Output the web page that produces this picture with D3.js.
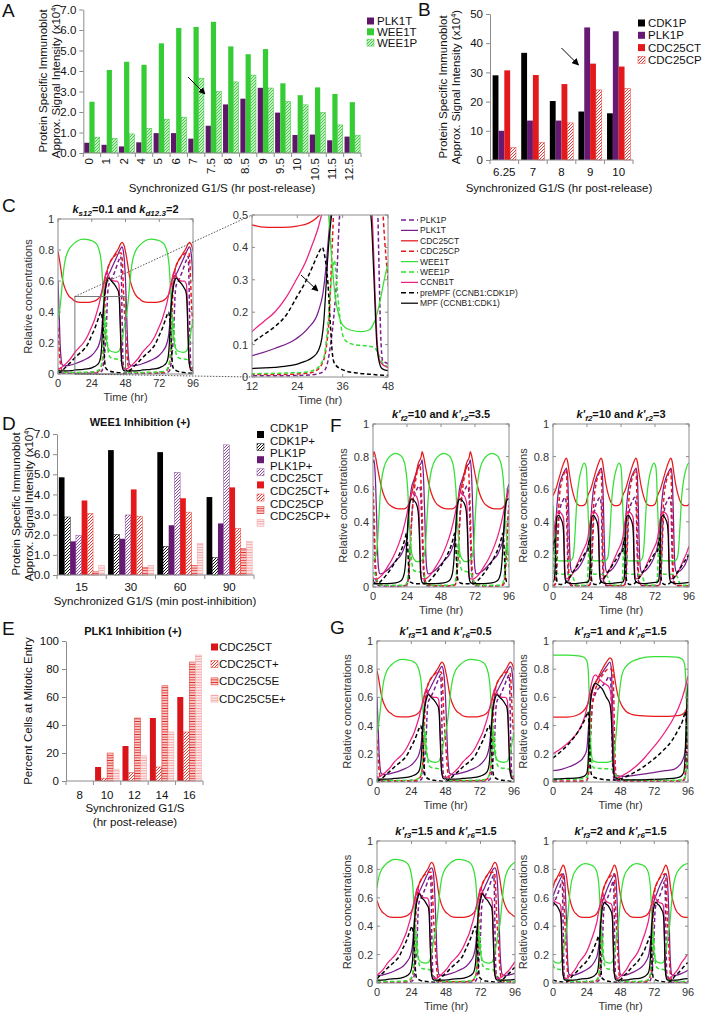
<!DOCTYPE html>
<html><head><meta charset="utf-8">
<script src="https://cdn.jsdelivr.net/npm/d3@7"></script>
<style>body{margin:0;background:#fff}svg{display:block;font-family:"Liberation Sans",Arial,sans-serif}</style>
</head><body>
<script>
// ===================== DATA =====================
// Panel A
const A_cats = ['0','1','2','4','5','6','7','7.5','8','8.5','9','9.5','10','10.5','11.5','12.5'];
const A_PLK1T = [0.5,0.4,0.32,0.52,0.97,0.97,0.7,1.33,2.37,2.65,3.18,1.97,0.88,0.9,0.62,0.8];
const A_WEE1T = [2.5,4.05,4.45,4.3,5.35,6.1,6.15,6.4,5.2,4.82,5.07,3.4,2.82,3.2,2.88,2.48];
const A_WEE1P = [0.77,0.72,0.93,1.2,1.65,1.75,3.65,3.0,3.47,3.8,3.17,2.52,2.35,1.98,1.37,0.87];
const A_yticks = [0,1,2,3,4,5,6,7];
// Panel B
const B_cats = ['6.25','7','8','9','10'];
const B_CDK1P = [29,36.7,20.2,16.6,16];
const B_PLK1P = [10,13.5,13.5,45.4,44.1];
const B_CDC25CT = [30.7,29.1,26,33,32];
const B_CDC25CP = [4.2,6,12.7,24,24.5];
const B_yticks = [0,10,20,30,40,50];
// Panel D
const D_cats = ['15','30','60','90'];
const D_CDK1P = [4.85,6.2,6.1,3.87];
const D_CDK1Pp = [2.88,2.02,1.42,0.86];
const D_PLK1P = [1.67,1.8,2.47,2.56];
const D_PLK1Pp = [1.97,2.98,5.09,6.46];
const D_CDC25CT = [3.7,4.25,3.81,4.35];
const D_CDC25CTp = [3.05,2.92,3.12,2.3];
const D_CDC25CP = [0.16,0.37,0.47,1.31];
const D_CDC25CPp = [0.46,0.47,1.56,1.66];
const D_labels = ['CDK1P','CDK1P+','PLK1P','PLK1P+','CDC25CT','CDC25CT+','CDC25CP','CDC25CP+'];
const D_yticks = [0,1,2,3,4,5,6,7];
// Panel E
const E_cats = ['8','10','12','14','16'];
const E_CDC25CT = [0,10,25,45,60];
const E_CDC25CTp = [0,2,6,10,35];
const E_CDC25C5E = [0,20,45,68,85];
const E_CDC25C5Ep = [0,8,18,35,90];
const E_labels = ['CDC25CT','CDC25CT+','CDC25C5E','CDC25C5E+'];
const E_yticks = [0,20,40,60,80,100];

// Simulations: [time (hr), relative concentration]
// C (ks12=0.1, kd12.3=2) -- same run as G (k'f3=1, k'r6=0.5)
const C_PLK1P=[[0,.04],[1,.015],[2,.006],[10,.004],[20,.004],[27,.006],[29.5,.01],[31.2,.02],[32.1,.05],[32.8,.1],[33.6,.18],[34.3,.28],[35.2,.5],[36,.57],[37.5,.6],[39.5,.64],[41.5,.69],[43.5,.74],[44.6,.76],[45.1,.62],[45.6,.35],[46.1,.12],[46.6,.05],[48,.04],[49,.015],[50,.006],[58,.004],[68,.004],[75,.006],[77.5,.01],[79.2,.02],[80.1,.05],[80.8,.1],[81.6,.18],[82.3,.28],[83.2,.5],[84,.57],[85.5,.6],[87.5,.64],[89.5,.69],[91.5,.74],[92.6,.76],[93.1,.62],[93.6,.35],[94.1,.12],[94.6,.05],[96,.04]];
const C_PLK1T=[[0,.6],[0.7,.42],[1.4,.22],[2.2,.1],[3,.06],[5,.052],[8,.056],[12,.066],[18,.088],[23.7,.118],[26.8,.15],[29.5,.2],[30.8,.26],[31.6,.34],[32.1,.41],[32.8,.5],[33.5,.56],[35,.62],[37,.66],[39,.7],[42,.76],[44,.8],[45.5,.82],[46.5,.79],[47.3,.72],[48,.6],[48.7,.42],[49.4,.22],[50.2,.1],[51,.06],[53,.052],[56,.056],[60,.066],[66,.088],[71.7,.118],[74.8,.15],[77.5,.2],[78.8,.26],[79.6,.34],[80.1,.41],[80.8,.5],[81.5,.56],[83,.62],[85,.66],[87,.7],[90,.76],[92,.8],[93.5,.82],[94.5,.79],[95.3,.72],[96,.6]];
const C_CDC25CT=[[0,.79],[1,.74],[2,.68],[3,.62],[4,.58],[6,.53],[8,.5],[10,.485],[12,.47],[16,.462],[20,.462],[24,.466],[27,.475],[29,.49],[30.5,.51],[32,.55],[33.5,.62],[35,.67],[37,.72],[39,.75],[41,.78],[43,.81],[44.5,.84],[45.5,.85],[46.5,.84],[47.3,.82],[48,.79],[49,.74],[50,.68],[51,.62],[52,.58],[54,.53],[56,.5],[58,.485],[60,.47],[64,.462],[68,.462],[72,.466],[75,.475],[77,.49],[78.5,.51],[80,.55],[81.5,.62],[83,.67],[85,.72],[87,.75],[89,.78],[91,.81],[92.5,.84],[93.5,.85],[94.5,.84],[95.3,.82],[96,.79]];
const C_CDC25CP=[[0,.3],[0.7,.18],[1.5,.08],[2.5,.03],[4,.012],[10,.008],[20,.008],[27,.012],[29,.02],[30.5,.04],[31.5,.08],[32.5,.2],[33.2,.4],[33.8,.55],[35,.66],[37,.72],[40,.76],[43,.78],[45,.78],[45.8,.72],[46.3,.6],[46.8,.48],[47.4,.38],[48,.3],[48.7,.18],[49.5,.08],[50.5,.03],[52,.012],[58,.008],[68,.008],[75,.012],[77,.02],[78.5,.04],[79.5,.08],[80.5,.2],[81.2,.4],[81.8,.55],[83,.66],[85,.72],[88,.76],[91,.78],[93,.78],[93.8,.72],[94.3,.6],[94.8,.48],[95.4,.38],[96,.3]];
const C_WEE1T=[[0,.35],[1,.4],[2,.48],[3,.58],[4,.67],[5,.73],[7,.79],[10,.83],[14,.86],[18,.87],[22,.865],[26,.85],[28,.83],[30,.77],[31,.7],[32,.55],[33,.38],[34,.25],[35,.19],[36,.16],[38,.145],[41,.14],[43,.145],[44,.16],[45,.19],[46,.24],[47,.3],[48,.35],[49,.4],[50,.48],[51,.58],[52,.67],[53,.73],[55,.79],[58,.83],[62,.86],[66,.87],[70,.865],[74,.85],[76,.83],[78,.77],[79,.7],[80,.55],[81,.38],[82,.25],[83,.19],[84,.16],[86,.145],[89,.14],[91,.145],[92,.16],[93,.19],[94,.24],[95,.3],[96,.35]];
const C_WEE1P=[[0,.03],[1,.02],[3,.012],[10,.01],[20,.012],[26,.015],[29,.025],[31,.06],[32,.15],[33,.3],[33.8,.36],[34.5,.28],[35.2,.19],[36,.13],[37,.11],[39,.1],[43,.095],[44.5,.09],[45.5,.07],[46.5,.045],[48,.03],[49,.02],[51,.012],[58,.01],[68,.012],[74,.015],[77,.025],[79,.06],[80,.15],[81,.3],[81.8,.36],[82.5,.28],[83.2,.19],[84,.13],[85,.11],[87,.1],[91,.095],[92.5,.09],[93.5,.07],[94.5,.045],[96,.03]];
const C_CCNB1T=[[0,.03],[3,.045],[6,.07],[9,.1],[12,.14],[15,.17],[18,.2],[21,.245],[23.7,.3],[26,.35],[28,.41],[29.5,.46],[30.4,.5],[32,.57],[33.5,.63],[34.5,.66],[35.5,.645],[37,.615],[40,.6],[42,.6],[43.3,.58],[44,.45],[44.6,.25],[45.2,.1],[45.8,.05],[47,.035],[48,.03],[51,.045],[54,.07],[57,.1],[60,.14],[63,.17],[66,.2],[69,.245],[71.7,.3],[74,.35],[76,.41],[77.5,.46],[78.4,.5],[80,.57],[81.5,.63],[82.5,.66],[83.5,.645],[85,.615],[88,.6],[90,.6],[91.3,.58],[92,.45],[92.6,.25],[93.2,.1],[93.8,.05],[95,.035],[96,.03]];
const C_preMPF=[[0,.005],[2,.012],[4,.03],[6,.05],[9,.075],[12,.105],[15,.13],[18,.155],[21,.19],[24,.25],[26,.29],[28,.34],[29.5,.38],[30.6,.4],[31.3,.37],[32.1,.29],[32.8,.15],[33.3,.07],[33.9,.04],[36.5,.02],[40,.012],[43.6,.008],[48,.005],[50,.012],[52,.03],[54,.05],[57,.075],[60,.105],[63,.13],[66,.155],[69,.19],[72,.25],[74,.29],[76,.34],[77.5,.38],[78.6,.4],[79.3,.37],[80.1,.29],[80.8,.15],[81.3,.07],[81.9,.04],[84.5,.02],[88,.012],[91.6,.008],[96,.005]];
const C_MPF=[[0,.02],[4,.02],[10,.022],[12,.026],[18,.03],[22,.035],[24,.04],[26,.048],[28,.06],[29.5,.08],[30.5,.12],[31,.17],[31.5,.26],[32,.36],[32.6,.45],[33.2,.51],[34,.56],[35,.6],[36,.62],[38,.6],[40,.58],[42,.55],[43,.53],[43.6,.48],[44.3,.3],[45,.11],[45.6,.05],[46.5,.025],[48,.02],[52,.02],[58,.022],[60,.026],[66,.03],[70,.035],[72,.04],[74,.048],[76,.06],[77.5,.08],[78.5,.12],[79,.17],[79.5,.26],[80,.36],[80.6,.45],[81.2,.51],[82,.56],[83,.6],[84,.62],[86,.6],[88,.58],[90,.55],[91,.53],[91.6,.48],[92.3,.3],[93,.11],[93.6,.05],[94.5,.025],[96,.02]];

// F left (k'f2=10, k'r2=3.5)
const FL_PLK1P=[[0,.5],[0.8,.3],[1.5,.12],[2.5,.03],[4,.008],[15,.005],[22,.007],[24,.015],[25,.06],[26,.2],[27,.38],[28,.5],[29.5,.57],[31,.6],[32.5,.62],[33.5,.6],[34,.5],[34.8,.3],[35.5,.12],[36.5,.03],[38,.008],[49,.005],[56,.007],[58,.015],[59,.06],[60,.2],[61,.38],[62,.5],[63.5,.57],[65,.6],[66.5,.62],[67.5,.6],[68,.5],[68.8,.3],[69.5,.12],[70.5,.03],[72,.008],[83,.005],[90,.007],[92,.015],[93,.06],[94,.2],[95,.38],[96,.5]];
const FL_PLK1T=[[0,.76],[0.7,.78],[1.5,.7],[2.5,.45],[3.3,.2],[4,.11],[5,.08],[8,.09],[12,.12],[16,.16],[20,.2],[22,.24],[24,.3],[25,.4],[26,.52],[27,.6],[29,.66],[31,.71],[33,.75],[34,.76],[34.7,.78],[35.5,.7],[36.5,.45],[37.3,.2],[38,.11],[39,.08],[42,.09],[46,.12],[50,.16],[54,.2],[56,.24],[58,.3],[59,.4],[60,.52],[61,.6],[63,.66],[65,.71],[67,.75],[68,.76],[68.7,.78],[69.5,.7],[70.5,.45],[71.3,.2],[72,.11],[73,.08],[76,.09],[80,.12],[84,.16],[88,.2],[90,.24],[92,.3],[93,.4],[94,.52],[95,.6],[96,.63]];
const FL_CDC25CT=[[0,.8],[0.7,.83],[1.5,.81],[3,.74],[5,.65],[7,.58],[10,.52],[14,.49],[18,.48],[22,.48],[24,.49],[26,.53],[28,.6],[30,.68],[32,.76],[34,.8],[34.7,.83],[35.5,.81],[37,.74],[39,.65],[41,.58],[44,.52],[48,.49],[52,.48],[56,.48],[58,.49],[60,.53],[62,.6],[64,.68],[66,.76],[68,.8],[68.7,.83],[69.5,.81],[71,.74],[73,.65],[75,.58],[78,.52],[82,.49],[86,.48],[90,.48],[92,.49],[94,.53],[96,.6]];
const FL_CDC25CP=[[0,.62],[0.7,.45],[1.5,.2],[2.5,.06],[4,.015],[15,.006],[22,.008],[24,.015],[25,.05],[26,.18],[27,.36],[28,.5],[29.5,.62],[31,.7],[32.5,.75],[33.3,.74],[34,.62],[34.7,.45],[35.5,.2],[36.5,.06],[38,.015],[49,.006],[56,.008],[58,.015],[59,.05],[60,.18],[61,.36],[62,.5],[63.5,.62],[65,.7],[66.5,.75],[67.3,.74],[68,.62],[68.7,.45],[69.5,.2],[70.5,.06],[72,.015],[83,.006],[90,.008],[92,.015],[93,.05],[94,.18],[95,.36],[96,.5]];
const FL_WEE1T=[[0,.16],[2,.19],[3,.25],[4,.4],[5,.55],[6,.65],[8,.74],[10,.78],[13,.81],[16,.82],[19,.81],[21,.79],[23,.73],[24.5,.6],[25.5,.42],[26.5,.28],[27.5,.2],[29,.17],[31,.155],[34,.16],[36,.19],[37,.25],[38,.4],[39,.55],[40,.65],[42,.74],[44,.78],[47,.81],[50,.82],[53,.81],[55,.79],[57,.73],[58.5,.6],[59.5,.42],[60.5,.28],[61.5,.2],[63,.17],[65,.155],[68,.16],[70,.19],[71,.25],[72,.4],[73,.55],[74,.65],[76,.74],[78,.78],[81,.81],[84,.82],[87,.81],[89,.79],[91,.73],[92.5,.6],[93.5,.42],[94.5,.28],[95.5,.2],[96,.19]];
const FL_WEE1P=[[0,.09],[2,.07],[3,.04],[4,.02],[6,.012],[20,.01],[23,.015],[24.5,.05],[25.5,.18],[26.3,.26],[27,.18],[28,.12],[29,.1],[34,.09],[36,.07],[37,.04],[38,.02],[40,.012],[54,.01],[57,.015],[58.5,.05],[59.5,.18],[60.3,.26],[61,.18],[62,.12],[63,.1],[68,.09],[70,.07],[71,.04],[72,.02],[74,.012],[88,.01],[91,.015],[92.5,.05],[93.5,.18],[94.3,.26],[95,.18],[96,.12]];
const FL_CCNB1T=[[0,.06],[1,.05],[3,.05],[6,.07],[10,.12],[14,.18],[18,.26],[21,.34],[24,.45],[26,.54],[27.5,.58],[29,.57],[31,.55],[32.3,.5],[33,.3],[33.6,.12],[34,.06],[35,.05],[37,.05],[40,.07],[44,.12],[48,.18],[52,.26],[55,.34],[58,.45],[60,.54],[61.5,.58],[63,.57],[65,.55],[66.3,.5],[67,.3],[67.6,.12],[68,.06],[69,.05],[71,.05],[74,.07],[78,.12],[82,.18],[86,.26],[89,.34],[92,.45],[94,.54],[95.5,.58],[96,.58]];
const FL_preMPF=[[0,.02],[3,.02],[6,.04],[10,.08],[14,.13],[18,.19],[21,.25],[23,.31],[23.6,.33],[24.3,.28],[25,.15],[25.6,.06],[26.5,.03],[30,.02],[34,.02],[37,.02],[40,.04],[44,.08],[48,.13],[52,.19],[55,.25],[57,.31],[57.6,.33],[58.3,.28],[59,.15],[59.6,.06],[60.5,.03],[64,.02],[68,.02],[71,.02],[74,.04],[78,.08],[82,.13],[86,.19],[89,.25],[91,.31],[91.6,.33],[92.3,.28],[93,.15],[93.6,.06],[94.5,.03],[96,.025]];
const FL_MPF=[[0,.05],[1,.025],[4,.02],[10,.02],[16,.025],[20,.04],[22,.08],[23,.15],[24,.3],[25,.45],[26,.52],[27.5,.54],[29,.53],[31,.5],[32,.45],[32.8,.3],[33.4,.12],[34,.05],[35,.025],[38,.02],[44,.02],[50,.025],[54,.04],[56,.08],[57,.15],[58,.3],[59,.45],[60,.52],[61.5,.54],[63,.53],[65,.5],[66,.45],[66.8,.3],[67.4,.12],[68,.05],[69,.025],[72,.02],[78,.02],[84,.025],[88,.04],[90,.08],[91,.15],[92,.3],[93,.45],[94,.52],[95.5,.54],[96,.54]];

// F right (k'f2=10, k'r2=3)
const FR_PLK1P=[[0,.008],[1.5,.015],[2.5,.08],[3.3,.25],[4,.4],[5,.48],[7,.53],[8.5,.55],[9.5,.5],[10,.3],[10.6,.1],[11.3,.03],[13,.008],[24.6,.008],[26.1,.015],[27.1,.08],[27.9,.25],[28.6,.4],[29.6,.48],[31.6,.53],[33.1,.55],[34.1,.5],[34.6,.3],[35.2,.1],[35.9,.03],[37.6,.008],[49.2,.008],[50.7,.015],[51.7,.08],[52.5,.25],[53.2,.4],[54.2,.48],[56.2,.53],[57.7,.55],[58.7,.5],[59.2,.3],[59.8,.1],[60.5,.03],[62.2,.008],[73.8,.008],[75.3,.015],[76.3,.08],[77.1,.25],[77.8,.4],[78.8,.48],[80.8,.53],[82.3,.55],[83.3,.5],[83.8,.3],[84.4,.1],[85.1,.03],[86.8,.008],[96,.008]];
const FR_PLK1T=[[0,.25],[1,.3],[2,.4],[3,.52],[4,.6],[6,.67],[8,.71],[9.5,.73],[10.3,.68],[11,.5],[11.7,.25],[12.4,.12],[13.5,.09],[16,.1],[19,.13],[22,.18],[24.6,.25],[25.6,.3],[26.6,.4],[27.6,.52],[28.6,.6],[30.6,.67],[32.6,.71],[34.1,.73],[34.9,.68],[35.6,.5],[36.3,.25],[37,.12],[38.1,.09],[40.6,.1],[43.6,.13],[46.6,.18],[49.2,.25],[50.2,.3],[51.2,.4],[52.2,.52],[53.2,.6],[55.2,.67],[57.2,.71],[58.7,.73],[59.5,.68],[60.2,.5],[60.9,.25],[61.6,.12],[62.7,.09],[65.2,.1],[68.2,.13],[71.2,.18],[73.8,.25],[74.8,.3],[75.8,.4],[76.8,.52],[77.8,.6],[79.8,.67],[81.8,.71],[83.3,.73],[84.1,.68],[84.8,.5],[85.5,.25],[86.2,.12],[87.3,.09],[89.8,.1],[92.8,.13],[96,.2]];
const FR_CDC25CT=[[0,.56],[2,.6],[4,.66],[6,.72],[8,.77],[9.3,.79],[10.3,.77],[11.5,.7],[13,.62],[15,.55],[17,.51],[19,.5],[21,.5],[23,.51],[24.6,.56],[26.6,.6],[28.6,.66],[30.6,.72],[32.6,.77],[33.9,.79],[34.9,.77],[36.1,.7],[37.6,.62],[39.6,.55],[41.6,.51],[43.6,.5],[45.6,.5],[47.6,.51],[49.2,.56],[51.2,.6],[53.2,.66],[55.2,.72],[57.2,.77],[58.5,.79],[59.5,.77],[60.7,.7],[62.2,.62],[64.2,.55],[66.2,.51],[68.2,.5],[70.2,.5],[72.2,.51],[73.8,.56],[75.8,.6],[77.8,.66],[79.8,.72],[81.8,.77],[83.1,.79],[84.1,.77],[85.3,.7],[86.8,.62],[88.8,.55],[90.8,.51],[92.8,.5],[94.8,.5],[96,.51]];
const FR_CDC25CP=[[0,.008],[1.5,.015],[2.3,.08],[3,.25],[3.7,.42],[4.5,.55],[6,.64],[8,.7],[9.3,.72],[9.9,.6],[10.4,.35],[11,.12],[11.8,.03],[13.5,.01],[24.6,.008],[26.1,.015],[26.9,.08],[27.6,.25],[28.3,.42],[29.1,.55],[30.6,.64],[32.6,.7],[33.9,.72],[34.5,.6],[35,.35],[35.6,.12],[36.4,.03],[38.1,.01],[49.2,.008],[50.7,.015],[51.5,.08],[52.2,.25],[52.9,.42],[53.7,.55],[55.2,.64],[57.2,.7],[58.5,.72],[59.1,.6],[59.6,.35],[60.2,.12],[61,.03],[62.7,.01],[73.8,.008],[75.3,.015],[76.1,.08],[76.8,.25],[77.5,.42],[78.3,.55],[79.8,.64],[81.8,.7],[83.1,.72],[83.7,.6],[84.2,.35],[84.8,.12],[85.6,.03],[87.3,.01],[96,.008]];
const FR_WEE1T=[[0,.5],[0.8,.32],[1.6,.22],[2.5,.18],[4,.16],[12,.16],[14,.18],[15,.25],[16,.4],[17,.55],[18.5,.66],[20,.72],[22,.76],[23.3,.74],[24,.66],[24.6,.5],[25.4,.32],[26.2,.22],[27.1,.18],[28.6,.16],[36.6,.16],[38.6,.18],[39.6,.25],[40.6,.4],[41.6,.55],[43.1,.66],[44.6,.72],[46.6,.76],[47.9,.74],[48.6,.66],[49.2,.5],[50,.32],[50.8,.22],[51.7,.18],[53.2,.16],[61.2,.16],[63.2,.18],[64.2,.25],[65.2,.4],[66.2,.55],[67.7,.66],[69.2,.72],[71.2,.76],[72.5,.74],[73.2,.66],[73.8,.5],[74.6,.32],[75.4,.22],[76.3,.18],[77.8,.16],[85.8,.16],[87.8,.18],[88.8,.25],[89.8,.4],[90.8,.55],[92.3,.66],[93.8,.72],[95.8,.76],[96,.76]];
const FR_WEE1P=[[0,.08],[0.5,.2],[1,.25],[1.6,.15],[2.3,.09],[4,.08],[13,.075],[14.5,.05],[15.5,.025],[17,.012],[23,.01],[24.2,.03],[24.6,.08],[25.1,.2],[25.6,.25],[26.2,.15],[26.9,.09],[28.6,.08],[37.6,.075],[39.1,.05],[40.1,.025],[41.6,.012],[47.6,.01],[48.8,.03],[49.2,.08],[49.7,.2],[50.2,.25],[50.8,.15],[51.5,.09],[53.2,.08],[62.2,.075],[63.7,.05],[64.7,.025],[66.2,.012],[72.2,.01],[73.4,.03],[73.8,.08],[74.3,.2],[74.8,.25],[75.4,.15],[76.1,.09],[77.8,.08],[86.8,.075],[88.3,.05],[89.3,.025],[90.8,.012],[96,.01]];
const FR_CCNB1T=[[0,.3],[1,.36],[2,.42],[3,.46],[4.5,.46],[6,.45],[7.5,.42],[8.1,.2],[8.6,.08],[9.5,.05],[12,.06],[15,.1],[18,.16],[21,.22],[24.6,.3],[25.6,.36],[26.6,.42],[27.6,.46],[29.1,.46],[30.6,.45],[32.1,.42],[32.7,.2],[33.2,.08],[34.1,.05],[36.6,.06],[39.6,.1],[42.6,.16],[45.6,.22],[49.2,.3],[50.2,.36],[51.2,.42],[52.2,.46],[53.7,.46],[55.2,.45],[56.7,.42],[57.3,.2],[57.8,.08],[58.7,.05],[61.2,.06],[64.2,.1],[67.2,.16],[70.2,.22],[73.8,.3],[74.8,.36],[75.8,.42],[76.8,.46],[78.3,.46],[79.8,.45],[81.3,.42],[81.9,.2],[82.4,.08],[83.3,.05],[85.8,.06],[88.8,.1],[91.8,.16],[94.8,.22],[96,.25]];
const FR_preMPF=[[0,.22],[0.8,.28],[1.3,.3],[1.8,.22],[2.3,.08],[3,.03],[5,.015],[8,.02],[11,.05],[14,.09],[17,.13],[20,.17],[23,.21],[24.6,.22],[25.4,.28],[25.9,.3],[26.4,.22],[26.9,.08],[27.6,.03],[29.6,.015],[32.6,.02],[35.6,.05],[38.6,.09],[41.6,.13],[44.6,.17],[47.6,.21],[49.2,.22],[50,.28],[50.5,.3],[51,.22],[51.5,.08],[52.2,.03],[54.2,.015],[57.2,.02],[60.2,.05],[63.2,.09],[66.2,.13],[69.2,.17],[72.2,.21],[73.8,.22],[74.6,.28],[75.1,.3],[75.6,.22],[76.1,.08],[76.8,.03],[78.8,.015],[81.8,.02],[84.8,.05],[87.8,.09],[90.8,.13],[93.8,.17],[96,.2]];
const FR_MPF=[[0,.03],[1,.05],[1.6,.15],[2.2,.35],[2.8,.43],[4,.44],[5.5,.42],[7,.38],[7.6,.3],[8.1,.12],[8.6,.05],[9.5,.03],[14,.02],[20,.025],[24.6,.03],[25.6,.05],[26.2,.15],[26.8,.35],[27.4,.43],[28.6,.44],[30.1,.42],[31.6,.38],[32.2,.3],[32.7,.12],[33.2,.05],[34.1,.03],[38.6,.02],[44.6,.025],[49.2,.03],[50.2,.05],[50.8,.15],[51.4,.35],[52,.43],[53.2,.44],[54.7,.42],[56.2,.38],[56.8,.3],[57.3,.12],[57.8,.05],[58.7,.03],[63.2,.02],[69.2,.025],[73.8,.03],[74.8,.05],[75.4,.15],[76,.35],[76.6,.43],[77.8,.44],[79.3,.42],[80.8,.38],[81.4,.3],[81.9,.12],[82.4,.05],[83.3,.03],[87.8,.02],[93.8,.025],[96,.028]];

// G top right (k'f3=1, k'r6=1.5)
const GTR_PLK1P=[[0,.005],[20,.006],[24,.012],[25,.04],[26,.15],[27,.38],[28,.55],[30,.62],[32,.66],[35,.68],[38,.72],[40,.75],[41,.72],[41.7,.45],[42.3,.15],[43,.04],[44,.01],[60,.005],[90,.006],[93,.012],[94.2,.05],[95,.2],[95.6,.4],[96,.5]];
const GTR_PLK1T=[[0,.08],[6,.09],[12,.11],[18,.14],[22,.18],[24,.23],[25,.35],[26,.5],[27.5,.62],[30,.7],[34,.76],[38,.82],[40.5,.85],[41.5,.8],[42.3,.55],[43,.25],[43.7,.08],[44.5,.045],[50,.04],[60,.05],[70,.065],[80,.08],[86,.09],[90,.12],[92,.15],[94,.22],[95,.33],[96,.5]];
const GTR_CDC25CT=[[0,.46],[10,.46],[16,.47],[20,.49],[23,.52],[25,.56],[27,.63],[29,.68],[32,.74],[35,.8],[38,.85],[40.5,.88],[41.8,.87],[43,.8],[44.5,.7],[46,.62],[48,.56],[52,.5],[56,.48],[62,.47],[72,.465],[82,.465],[88,.47],[92,.48],[94,.5],[95,.52],[96,.55]];
const GTR_CDC25CP=[[0,.005],[20,.006],[24,.012],[25,.05],[26,.2],[27,.42],[28,.55],[30,.65],[33,.72],[36,.77],[39,.8],[41.5,.8],[42.5,.78],[43.2,.6],[43.8,.3],[44.5,.08],[45.5,.02],[50,.008],[90,.007],[93,.015],[94.2,.08],[95,.3],[95.6,.5],[96,.6]];
const GTR_WEE1T=[[0,.9],[10,.9],[18,.895],[22,.885],[24,.86],[25,.8],[25.8,.6],[26.5,.35],[27.3,.2],[28.5,.15],[32,.14],[38,.14],[42,.15],[43.5,.2],[45,.35],[46.5,.55],[48,.7],[50,.79],[54,.84],[60,.87],[66,.885],[72,.89],[80,.89],[88,.885],[92,.87],[93.5,.84],[94.5,.7],[95.2,.45],[96,.25]];
const GTR_WEE1P=[[0,.022],[15,.02],[22,.025],[24.5,.04],[25.5,.15],[26.2,.28],[27,.2],[28,.12],[29,.1],[35,.095],[41,.092],[43,.08],[44.5,.05],[46,.025],[50,.015],[80,.012],[92,.015],[94,.03],[95,.12],[96,.2]];
const GTR_CCNB1T=[[0,.2],[6,.24],[12,.29],[18,.36],[21,.42],[23,.48],[25,.57],[27,.68],[29,.75],[30.5,.76],[32,.74],[35,.71],[38,.69],[40,.67],[41.5,.6],[42.3,.35],[43,.12],[43.8,.04],[46,.03],[50,.05],[55,.08],[60,.12],[65,.17],[70,.23],[75,.29],[80,.36],[85,.44],[89,.52],[92,.6],[94,.67],[96,.75]];
const GTR_preMPF=[[0,.17],[6,.22],[12,.28],[18,.36],[22,.43],[24,.48],[24.8,.5],[25.5,.42],[26.2,.2],[27,.07],[28,.04],[32,.025],[40,.015],[45,.015],[50,.03],[60,.08],[70,.15],[78,.22],[85,.3],[89,.37],[92,.43],[93.5,.48],[94.2,.5],[94.9,.4],[95.5,.2],[96,.08]];
const GTR_MPF=[[0,.02],[10,.025],[18,.03],[22,.04],[24,.06],[25,.15],[25.7,.35],[26.5,.55],[28,.66],[30,.7],[32,.69],[35,.66],[38,.6],[40.5,.55],[41.5,.45],[42.3,.25],[43,.08],[44,.03],[50,.015],[60,.015],[70,.018],[80,.022],[88,.03],[91,.04],[93,.07],[94,.2],[94.8,.45],[95.5,.62],[96,.7]];

// G bottom left (k'f3=1.5, k'r6=1.5)
const GBL_PLK1P=[[0,.005],[5.5,.004],[14.7,.004],[21.1,.006],[23.4,.01],[25,.02],[25.8,.05],[26.4,.1],[27.1,.18],[27.8,.28],[28.6,.5],[29.3,.57],[30.7,.6],[32.5,.64],[34.4,.69],[36.2,.74],[37.2,.76],[37.7,.62],[38.1,.35],[38.6,.12],[39,.05],[40.3,.04],[41.3,.015],[42.2,.006],[49.5,.004],[58.7,.004],[65.1,.006],[67.4,.01],[69,.02],[69.8,.05],[70.4,.1],[71.1,.18],[71.8,.28],[72.6,.5],[73.3,.57],[74.7,.6],[76.5,.64],[78.4,.69],[80.2,.74],[81.2,.76],[81.7,.62],[82.1,.35],[82.6,.12],[83,.05],[84.3,.04],[85.3,.015],[86.2,.006],[93.5,.004],[96,.004]];
const GBL_PLK1T=[[0,.055],[0.9,.052],[3.7,.056],[7.3,.066],[12.8,.088],[18.1,.118],[20.9,.15],[23.4,.2],[24.6,.26],[25.3,.34],[25.8,.41],[26.4,.5],[27,.56],[28.4,.62],[30.3,.66],[32.1,.7],[34.8,.76],[36.7,.8],[38,.81],[39,.79],[39.7,.72],[40.3,.6],[41,.42],[41.6,.22],[42.4,.1],[43.1,.06],[44.9,.052],[47.7,.056],[51.3,.066],[56.8,.088],[62.1,.118],[64.9,.15],[67.4,.2],[68.6,.26],[69.3,.34],[69.8,.41],[70.4,.5],[71,.56],[72.4,.62],[74.3,.66],[76.1,.7],[78.8,.76],[80.7,.8],[82,.81],[83,.79],[83.7,.72],[84.3,.6],[85,.42],[85.6,.22],[86.4,.1],[87.1,.06],[88.9,.052],[91.7,.056],[95.3,.066],[96,.068]];
const GBL_CDC25CT=[[0,.58],[1.8,.53],[3.7,.5],[5.5,.485],[7.3,.47],[11,.462],[14.7,.462],[18.3,.466],[21.1,.475],[22.9,.49],[24.3,.51],[25.7,.55],[27,.62],[28.4,.67],[30.3,.72],[32.1,.75],[33.9,.78],[35.8,.81],[37.1,.84],[38,.85],[39,.84],[39.7,.82],[40.3,.79],[41.3,.74],[42.2,.68],[43.1,.62],[44,.58],[45.8,.53],[47.7,.5],[49.5,.485],[51.3,.47],[55,.462],[58.7,.462],[62.3,.466],[65.1,.475],[66.9,.49],[68.3,.51],[69.7,.55],[71,.62],[72.4,.67],[74.3,.72],[76.1,.75],[77.9,.78],[79.8,.81],[81.1,.84],[82,.85],[83,.84],[83.7,.82],[84.3,.79],[85.3,.74],[86.2,.68],[87.1,.62],[88,.58],[89.8,.53],[91.7,.5],[93.5,.485],[95.3,.47],[96,.468]];
const GBL_CDC25CP=[[0,.012],[5.5,.008],[14.7,.008],[21.1,.012],[22.9,.02],[24.3,.04],[25.2,.08],[26.1,.2],[26.8,.4],[27.3,.55],[28.4,.66],[30.3,.72],[33,.76],[35.8,.78],[37.6,.78],[38.3,.72],[38.8,.6],[39.2,.48],[39.8,.38],[40.3,.3],[41,.18],[41.7,.08],[42.6,.03],[44,.012],[49.5,.008],[58.7,.008],[65.1,.012],[66.9,.02],[68.3,.04],[69.2,.08],[70.1,.2],[70.8,.4],[71.3,.55],[72.4,.66],[74.3,.72],[77,.76],[79.8,.78],[81.6,.78],[82.3,.72],[82.8,.6],[83.2,.48],[83.8,.38],[84.3,.3],[85,.18],[85.7,.08],[86.6,.03],[88,.012],[93.5,.008],[96,.008]];
const GBL_WEE1T=[[0,.67],[0.9,.73],[2.8,.79],[5.5,.83],[9.2,.86],[12.8,.87],[16.5,.865],[20.2,.85],[22,.83],[23.8,.77],[24.8,.7],[25.7,.55],[26.6,.38],[27.5,.25],[28.4,.19],[29.3,.16],[31.2,.145],[33.9,.14],[35.8,.145],[36.7,.16],[37.6,.19],[38.5,.24],[39.4,.3],[40.3,.35],[41.3,.4],[42.2,.48],[43.1,.58],[44,.67],[44.9,.73],[46.8,.79],[49.5,.83],[53.2,.86],[56.8,.87],[60.5,.865],[64.2,.85],[66,.83],[67.8,.77],[68.8,.7],[69.7,.55],[70.6,.38],[71.5,.25],[72.4,.19],[73.3,.16],[75.2,.145],[77.9,.14],[79.8,.145],[80.7,.16],[81.6,.19],[82.5,.24],[83.4,.3],[84.3,.35],[85.3,.4],[86.2,.48],[87.1,.58],[88,.67],[88.9,.73],[90.8,.79],[93.5,.83],[96,.85]];
const GBL_WEE1P=[[0,.011],[5.5,.01],[14.7,.012],[20.2,.015],[22.9,.025],[24.8,.06],[25.7,.15],[26.6,.3],[27.3,.36],[28,.28],[28.6,.19],[29.3,.13],[30.3,.11],[32.1,.1],[35.8,.095],[37.1,.09],[38,.07],[38.9,.045],[40.3,.03],[41.3,.02],[43.1,.012],[49.5,.01],[58.7,.012],[64.2,.015],[66.9,.025],[68.8,.06],[69.7,.15],[70.6,.3],[71.3,.36],[72,.28],[72.6,.19],[73.3,.13],[74.3,.11],[76.1,.1],[79.8,.095],[81.1,.09],[82,.07],[82.9,.045],[84.3,.03],[85.3,.02],[87.1,.012],[93.5,.01],[96,.01]];
const GBL_CCNB1T=[[0,.055],[1.8,.07],[4.6,.1],[7.3,.14],[10.1,.17],[12.8,.2],[15.6,.245],[18.1,.3],[20.2,.35],[22,.41],[23.4,.46],[24.2,.5],[25.7,.57],[27,.63],[28,.67],[28.9,.655],[30.3,.62],[33,.6],[34.8,.6],[36,.58],[36.7,.45],[37.2,.25],[37.8,.1],[38.3,.05],[39.4,.035],[40.3,.03],[43.1,.045],[45.8,.07],[48.6,.1],[51.3,.14],[54.1,.17],[56.8,.2],[59.6,.245],[62.1,.3],[64.2,.35],[66,.41],[67.4,.46],[68.2,.5],[69.7,.57],[71,.63],[72,.67],[72.9,.655],[74.3,.62],[77,.6],[78.8,.6],[80,.58],[80.7,.45],[81.2,.25],[81.8,.1],[82.3,.05],[83.4,.035],[84.3,.03],[87.1,.045],[89.8,.07],[92.6,.1],[95.3,.14],[96,.15]];
const GBL_preMPF=[[0,.03],[1.8,.05],[4.6,.075],[7.3,.105],[10.1,.13],[12.8,.155],[15.6,.19],[18.3,.25],[20.2,.29],[22,.34],[23.4,.38],[24.4,.4],[25,.37],[25.8,.29],[26.4,.15],[26.9,.07],[27.4,.04],[29.8,.02],[33,.012],[36.3,.008],[40.3,.005],[42.2,.012],[44,.03],[45.8,.05],[48.6,.075],[51.3,.105],[54.1,.13],[56.8,.155],[59.6,.19],[62.3,.25],[64.2,.29],[66,.34],[67.4,.38],[68.4,.4],[69,.37],[69.8,.29],[70.4,.15],[70.9,.07],[71.4,.04],[73.8,.02],[77,.012],[80.3,.008],[84.3,.005],[86.2,.012],[88,.03],[89.8,.05],[92.6,.075],[95.3,.105],[96,.11]];
const GBL_MPF=[[0,.02],[5.5,.022],[7.3,.026],[12.8,.03],[16.5,.035],[18.3,.04],[20.2,.048],[22,.06],[23.4,.08],[24.3,.12],[24.8,.17],[25.2,.26],[25.7,.36],[26.2,.45],[26.8,.51],[27.5,.56],[28.4,.6],[29.3,.63],[31.2,.6],[33,.58],[34.8,.55],[35.8,.53],[36.3,.48],[36.9,.3],[37.6,.11],[38.1,.05],[39,.025],[40.3,.02],[44,.02],[49.5,.022],[51.3,.026],[56.8,.03],[60.5,.035],[62.3,.04],[64.2,.048],[66,.06],[67.4,.08],[68.3,.12],[68.8,.17],[69.2,.26],[69.7,.36],[70.2,.45],[70.8,.51],[71.5,.56],[72.4,.6],[73.3,.63],[75.2,.6],[77,.58],[78.8,.55],[79.8,.53],[80.3,.48],[80.9,.3],[81.6,.11],[82.1,.05],[83,.025],[84.3,.02],[88,.02],[93.5,.022],[96,.025]];

// G bottom right (k'f3=2, k'r6=1.5)
const GBR_PLK1P=[[0,.54],[0.4,.55],[1.1,.57],[2.7,.61],[4.2,.65],[5.7,.7],[6.5,.72],[6.9,.6],[7.3,.35],[7.7,.12],[8.1,.05],[9.1,.04],[9.9,.015],[10.6,.006],[16.7,.004],[24.3,.004],[29.7,.006],[31.6,.01],[32.8,.02],[33.5,.05],[34.1,.1],[34.7,.18],[35.2,.28],[35.9,.48],[36.5,.54],[37.6,.57],[39.2,.61],[40.7,.65],[42.2,.7],[43,.72],[43.4,.6],[43.8,.35],[44.2,.12],[44.6,.05],[45.6,.04],[46.4,.015],[47.1,.006],[53.2,.004],[60.8,.004],[66.2,.006],[68.1,.01],[69.3,.02],[70,.05],[70.6,.1],[71.2,.18],[71.7,.28],[72.4,.48],[73,.54],[74.1,.57],[75.7,.61],[77.2,.65],[78.7,.7],[79.5,.72],[79.9,.6],[80.3,.35],[80.7,.12],[81.1,.05],[82.1,.04],[82.9,.015],[83.6,.006],[89.7,.004],[96,.004]];
const GBR_PLK1T=[[0,.61],[0.75,.63],[2.3,.67],[4.6,.72],[6.1,.75],[7.2,.77],[8,.75],[8.6,.68],[9.1,.57],[9.7,.4],[10.2,.21],[10.8,.1],[11.4,.06],[12.9,.052],[15.2,.056],[18.2,.066],[22.8,.088],[27.1,.118],[29.5,.15],[31.6,.2],[32.5,.26],[33.2,.33],[33.5,.4],[34.1,.48],[34.6,.54],[35.7,.59],[37.3,.63],[38.8,.67],[41.1,.72],[42.6,.75],[43.7,.77],[44.5,.75],[45.1,.68],[45.6,.57],[46.2,.4],[46.7,.21],[47.3,.1],[47.9,.06],[49.4,.052],[51.7,.056],[54.7,.066],[59.3,.088],[63.6,.118],[66,.15],[68.1,.2],[69,.26],[69.7,.33],[70,.4],[70.6,.48],[71.1,.54],[72.2,.59],[73.8,.63],[75.3,.67],[77.6,.72],[79.1,.75],[80.2,.77],[81,.75],[81.6,.68],[82.1,.57],[82.7,.4],[83.2,.21],[83.8,.1],[84.4,.06],[85.9,.052],[88.2,.056],[91.2,.066],[95.8,.088],[96,.089]];
const GBR_CDC25CT=[[0,.68],[0.75,.7],[2.3,.73],[3.8,.76],[5.3,.79],[6.5,.82],[7.2,.83],[8,.82],[8.6,.8],[9.1,.78],[9.9,.73],[10.6,.67],[11.4,.62],[12.2,.58],[13.7,.53],[15.2,.5],[16.7,.485],[18.2,.47],[21.3,.462],[24.3,.462],[27.4,.466],[29.7,.475],[31.2,.49],[32.3,.51],[33.5,.55],[34.6,.61],[35.7,.66],[37.3,.7],[38.8,.73],[40.3,.76],[41.8,.79],[43,.82],[43.7,.83],[44.5,.82],[45.1,.8],[45.6,.78],[46.4,.73],[47.1,.67],[47.9,.62],[48.7,.58],[50.2,.53],[51.7,.5],[53.2,.485],[54.7,.47],[57.8,.462],[60.8,.462],[63.9,.466],[66.2,.475],[67.7,.49],[68.8,.51],[70,.55],[71.1,.61],[72.2,.66],[73.8,.7],[75.3,.73],[76.8,.76],[78.3,.79],[79.5,.82],[80.2,.83],[81,.82],[81.6,.8],[82.1,.78],[82.9,.73],[83.6,.67],[84.4,.62],[85.2,.58],[86.7,.53],[88.2,.5],[89.7,.485],[91.2,.47],[94.3,.462],[96,.462]];
const GBR_CDC25CP=[[0,.67],[0.75,.7],[3,.74],[5.3,.76],[6.8,.77],[7.45,.71],[7.83,.6],[8.2,.48],[8.7,.38],[9.1,.3],[9.7,.18],[10.3,.08],[11,.03],[12.2,.012],[16.7,.008],[24.3,.008],[29.7,.012],[31.2,.02],[32.3,.04],[33.1,.08],[33.8,.2],[34.4,.4],[34.8,.54],[35.7,.64],[37.3,.7],[39.5,.74],[41.8,.76],[43.3,.77],[43.9,.71],[44.3,.6],[44.7,.48],[45.2,.38],[45.6,.3],[46.2,.18],[46.8,.08],[47.5,.03],[48.7,.012],[53.2,.008],[60.8,.008],[66.2,.012],[67.7,.02],[68.8,.04],[69.6,.08],[70.3,.2],[70.9,.4],[71.3,.54],[72.2,.64],[73.8,.7],[76,.74],[78.3,.76],[79.8,.77],[80.4,.71],[80.8,.6],[81.2,.48],[81.7,.38],[82.1,.3],[82.7,.18],[83.3,.08],[84,.03],[85.2,.012],[89.7,.008],[96,.008]];
const GBR_WEE1T=[[0,.16],[1.5,.145],[3.8,.14],[5.3,.145],[6.1,.16],[6.8,.19],[7.6,.24],[8.4,.3],[9.1,.35],[9.9,.4],[10.6,.48],[11.4,.57],[12.2,.65],[12.9,.7],[14.4,.76],[16.7,.8],[19.8,.83],[22.8,.84],[25.9,.835],[28.9,.82],[30.4,.8],[31.9,.75],[32.7,.68],[33.5,.54],[34.2,.38],[35,.25],[35.7,.19],[36.5,.16],[38,.145],[40.3,.14],[41.8,.145],[42.6,.16],[43.3,.19],[44.1,.24],[44.9,.3],[45.6,.35],[46.4,.4],[47.1,.48],[47.9,.57],[48.7,.65],[49.4,.7],[50.9,.76],[53.2,.8],[56.3,.83],[59.3,.84],[62.4,.835],[65.4,.82],[66.9,.8],[68.4,.75],[69.2,.68],[70,.54],[70.7,.38],[71.5,.25],[72.2,.19],[73,.16],[74.5,.145],[76.8,.14],[78.3,.145],[79.1,.16],[79.8,.19],[80.6,.24],[81.4,.3],[82.1,.35],[82.9,.4],[83.6,.48],[84.4,.57],[85.2,.65],[85.9,.7],[87.4,.76],[89.7,.8],[92.8,.83],[95.8,.84],[96,.84]];
const GBR_WEE1P=[[0,.13],[0.75,.11],[2.3,.1],[5.3,.095],[6.5,.09],[7.2,.07],[8,.045],[9.1,.03],[9.9,.02],[11.4,.012],[16.7,.01],[24.3,.012],[28.9,.015],[31.2,.025],[32.7,.06],[33.5,.15],[34.2,.3],[34.8,.36],[35.4,.28],[35.9,.19],[36.5,.13],[37.3,.11],[38.8,.1],[41.8,.095],[43,.09],[43.7,.07],[44.5,.045],[45.6,.03],[46.4,.02],[47.9,.012],[53.2,.01],[60.8,.012],[65.4,.015],[67.7,.025],[69.2,.06],[70,.15],[70.7,.3],[71.3,.36],[71.9,.28],[72.4,.19],[73,.13],[73.8,.11],[75.3,.1],[78.3,.095],[79.5,.09],[80.2,.07],[81,.045],[82.1,.03],[82.9,.02],[84.4,.012],[89.7,.01],[96,.011]];
const GBR_CCNB1T=[[0,.6],[0.75,.58],[3,.565],[4.6,.56],[5.6,.54],[6.1,.42],[6.5,.23],[7,.1],[7.45,.05],[8.4,.035],[9.1,.03],[11.4,.045],[13.7,.07],[16,.1],[18.2,.14],[20.5,.17],[22.8,.2],[25.1,.245],[27.1,.3],[28.9,.35],[30.4,.4],[31.6,.45],[32.2,.49],[33.5,.55],[34.6,.6],[35.4,.62],[36.1,.61],[37.3,.58],[39.5,.565],[41.1,.56],[42.1,.54],[42.6,.42],[43,.23],[43.5,.1],[44,.05],[44.9,.035],[45.6,.03],[47.9,.045],[50.2,.07],[52.5,.1],[54.7,.14],[57,.17],[59.3,.2],[61.6,.245],[63.6,.3],[65.4,.35],[66.9,.4],[68.1,.45],[68.7,.49],[70,.55],[71.1,.6],[71.9,.62],[72.6,.61],[73.8,.58],[76,.565],[77.6,.56],[78.6,.54],[79.1,.42],[79.5,.23],[80,.1],[80.5,.05],[81.4,.035],[82.1,.03],[84.4,.045],[86.7,.07],[89,.1],[91.2,.14],[93.5,.17],[95.8,.2],[96,.2]];
const GBR_preMPF=[[0,.022],[0.4,.02],[3,.012],[5.8,.008],[9.1,.005],[10.6,.012],[12.2,.03],[13.7,.05],[16,.07],[18.2,.095],[20.5,.12],[22.8,.14],[25.1,.17],[27.4,.21],[28.9,.24],[30.4,.28],[31.6,.31],[32.4,.33],[32.9,.3],[33.5,.23],[34.1,.12],[34.4,.06],[34.9,.035],[36.9,.02],[39.5,.012],[42.3,.008],[45.6,.005],[47.1,.012],[48.7,.03],[50.2,.05],[52.5,.07],[54.7,.095],[57,.12],[59.3,.14],[61.6,.17],[63.9,.21],[65.4,.24],[66.9,.28],[68.1,.31],[68.9,.33],[69.4,.3],[70,.23],[70.6,.12],[70.9,.06],[71.4,.035],[73.4,.02],[76,.012],[78.8,.008],[82.1,.005],[83.6,.012],[85.2,.03],[86.7,.05],[89,.07],[91.2,.095],[93.5,.12],[95.8,.14],[96,.14]];
const GBR_MPF=[[0,.57],[1.5,.555],[3,.54],[4.6,.51],[5.3,.49],[5.8,.44],[6.3,.28],[6.8,.1],[7.3,.05],[8,.025],[9.1,.02],[12.2,.02],[16.7,.022],[18.2,.026],[22.8,.03],[25.9,.035],[27.4,.04],[28.9,.048],[30.4,.06],[31.6,.08],[32.3,.12],[32.7,.17],[33.1,.25],[33.5,.34],[33.9,.42],[34.4,.47],[35,.52],[35.7,.55],[36.5,.57],[38,.555],[39.5,.54],[41.1,.51],[41.8,.49],[42.3,.44],[42.8,.28],[43.3,.1],[43.8,.05],[44.5,.025],[45.6,.02],[48.7,.02],[53.2,.022],[54.7,.026],[59.3,.03],[62.4,.035],[63.9,.04],[65.4,.048],[66.9,.06],[68.1,.08],[68.8,.12],[69.2,.17],[69.6,.25],[70,.34],[70.4,.42],[70.9,.47],[71.5,.52],[72.2,.55],[73,.57],[74.5,.555],[76,.54],[77.6,.51],[78.3,.49],[78.8,.44],[79.3,.28],[79.8,.1],[80.3,.05],[81,.025],[82.1,.02],[85.2,.02],[89.7,.022],[91.2,.026],[95.8,.03],[96,.03]];

const TS_xticks=[0,24,48,72,96];
const TS_yticks=[0,0.2,0.4,0.6,0.8,1];
const CZ_xticks=[12,24,36,48];
const CZ_yticks=[0,0.1,0.2,0.3,0.4,0.5];
const LEG_labels=['PLK1P','PLK1T','CDC25CT','CDC25CP','WEE1T','WEE1P','CCNB1T','preMPF (CCNB1:CDK1P)','MPF (CCNB1:CDK1)'];

// ===================== DRAWING =====================
const FONT='"Liberation Sans",Arial,sans-serif';
const svg=d3.select('body').append('svg').attr('width',702).attr('height',1014).attr('font-family',FONT);
const defs=svg.append('defs');
const PURPLE='#7a1d8c', RED='#e8191c', GREEN='#33e033', PINK='#ee1f80';
const SER=[{k:'PLK1P',c:PURPLE,d:1},{k:'PLK1T',c:PURPLE,d:0},{k:'CDC25CT',c:RED,d:0},{k:'CDC25CP',c:RED,d:1},{k:'WEE1T',c:GREEN,d:0},{k:'WEE1P',c:GREEN,d:1},{k:'CCNB1T',c:PINK,d:0},{k:'preMPF',c:'#000',d:1},{k:'MPF',c:'#000',d:0}];

function pattern(id,color,type,sw,sp){
  const p=defs.append('pattern').attr('id',id).attr('patternUnits','userSpaceOnUse').attr('width',sp).attr('height',sp);
  p.append('rect').attr('width',sp).attr('height',sp).attr('fill','#fff');
  if(type==='d') p.append('path').attr('d',`M0,${sp} L${sp},0 M${-sp/2},${sp/2} L${sp/2},${-sp/2} M${sp/2},${sp*1.5} L${sp*1.5},${sp/2}`).attr('stroke',color).attr('stroke-width',sw);
  else p.append('path').attr('d',`M0,${sp/2} L${sp},${sp/2}`).attr('stroke',color).attr('stroke-width',sw);
}
pattern('hG','#3cc83c','d',1.1,3);
pattern('hK','#111','d',1,3);
pattern('hP','#8a4f9c','d',1,3);
pattern('hR','#e63a34','d',1,3);
pattern('sR','#e0302c','h',1.3,2.6);
pattern('sP','#f3a2a2','h',1.3,2.6);
defs.append('marker').attr('id','arr').attr('viewBox','0 0 10 10').attr('refX',9).attr('refY',5).attr('markerWidth',7).attr('markerHeight',7).attr('orient','auto').attr('markerUnits','userSpaceOnUse')
  .append('path').attr('d','M0,0 L10,5 L0,10 Z').attr('fill','#000');

const AX='#8c8c8c';
function txt(x,y,s,o={}){
  const t=svg.append('text').attr('x',x).attr('y',y).text(s).attr('font-size',o.fs||11.5).attr('fill',o.fill||'#111')
    .attr('text-anchor',o.anchor||'start');
  if(o.bold) t.attr('font-weight','bold');
  if(o.rot!=null) t.attr('transform',`rotate(${o.rot},${x},${y})`);
  return t;
}
function bars(o){
  const x=d3.scaleBand().domain(o.cats).range([o.x0,o.x1]);
  const xi=d3.scaleBand().domain(d3.range(o.series.length)).range([0,x.bandwidth()]).paddingOuter(o.pad);
  const y=d3.scaleLinear().domain([0,o.max]).range([o.y1,o.y0]);
  const g=svg.append('g');
  o.series.forEach((s,i)=>{
    g.selectAll(null).data(s.vals).join('rect')
      .attr('x',(d,j)=>x(o.cats[j])+xi(i)).attr('width',xi.bandwidth())
      .attr('y',d=>y(d)).attr('height',d=>y(0)-y(d))
      .attr('fill',s.fill).attr('stroke',s.stroke||'none').attr('stroke-width',0.5);
  });
  const ya=g.append('g').attr('transform',`translate(${o.x0},0)`)
    .call(d3.axisLeft(y).tickValues(o.ticks).tickSize(4).tickSizeOuter(0).tickPadding(3))
    .attr('font-family',FONT).attr('font-size',o.fs||11.5);
  ya.select('.domain').attr('stroke',AX);
  ya.selectAll('line').attr('stroke',AX);
  ya.selectAll('text').attr('fill','#111');
  g.append('line').attr('x1',o.x0).attr('x2',o.x1).attr('y1',o.y1).attr('y2',o.y1).attr('stroke',AX);
  const bnds=o.cats.map(c=>x(c)).concat([o.x1]);
  bnds.forEach(b=>g.append('line').attr('x1',b).attr('x2',b).attr('y1',o.y1).attr('y2',o.y1+4).attr('stroke',AX));
  o.cats.forEach(c=>{
    const cx=x(c)+x.bandwidth()/2;
    if(o.rotLabels){
      svg.append('text').attr('transform',`translate(${cx-3},${o.y1+5}) rotate(-90)`).attr('text-anchor','end').attr('dy','0.35em')
        .attr('font-size',o.fs||11.5).attr('fill','#111').text(c);
    } else txt(cx,o.labelY,c,{anchor:'middle',fs:o.fs});
  });
  return {x,y};
}

// ---- Panel A
bars({cats:A_cats,x0:83.3,x1:361,y0:9.5,y1:153,max:7,ticks:A_yticks,pad:0.17,rotLabels:true,
  series:[{vals:A_PLK1T,fill:'#5e1668'},{vals:A_WEE1T,fill:'#35cc35'},{vals:A_WEE1P,fill:'url(#hG)',stroke:'#3cc83c'}]});
txt(47,81,'Protein Specific Immunoblot',{anchor:'middle',rot:-90});
{const t=txt(60,81,'Approx. Signal Intensity (x10',{anchor:'middle',rot:-90}); t.append('tspan').attr('dy',-4).attr('font-size',7.5).text('4'); t.append('tspan').attr('dy',4).text(')');}
txt(222,192,'Synchronized G1/S (hr post-release)',{anchor:'middle'});
[['PLK1T','#5e1668',null],['WEE1T','#35cc35',null],['WEE1P','url(#hG)','#3cc83c']].forEach((d,i)=>{
  const yy=21+i*10.8;
  svg.append('rect').attr('x',367).attr('y',yy-3.5).attr('width',7).attr('height',7).attr('fill',d[1]).attr('stroke',d[2]||'none').attr('stroke-width',0.5);
  txt(377,yy+4,d[0]);
});
svg.append('line').attr('x1',188).attr('y1',77).attr('x2',205).attr('y2',94).attr('stroke','#000').attr('stroke-width',1).attr('marker-end','url(#arr)');
txt(2,17,'A',{fs:19});

// ---- Panel B
bars({cats:B_cats,x0:490,x1:633,y0:14,y1:160,max:50,ticks:B_yticks,pad:0.45,labelY:176,
  series:[{vals:B_CDK1P,fill:'#000'},{vals:B_PLK1P,fill:'#661a73'},{vals:B_CDC25CT,fill:'#e3191b'},{vals:B_CDC25CP,fill:'url(#hR)',stroke:'#e63a34'}]});
txt(447,87,'Protein Specific Immunoblot',{anchor:'middle',rot:-90});
{const t=txt(460,87,'Approx. Signal Intensity (x10',{anchor:'middle',rot:-90}); t.append('tspan').attr('dy',-4).attr('font-size',7.5).text('4'); t.append('tspan').attr('dy',4).text(')');}
txt(559,192,'Synchronized G1/S (hr post-release)',{anchor:'middle'});
[['CDK1P','#000',null],['PLK1P','#661a73',null],['CDC25CT','#e3191b',null],['CDC25CP','url(#hR)','#e63a34']].forEach((d,i)=>{
  const yy=23+i*12.3;
  svg.append('rect').attr('x',638).attr('y',yy-3.5).attr('width',7).attr('height',7).attr('fill',d[1]).attr('stroke',d[2]||'none').attr('stroke-width',0.5);
  txt(648,yy+4,d[0]);
});
svg.append('line').attr('x1',561.5).attr('y1',48).attr('x2',578.5).attr('y2',65).attr('stroke','#000').attr('stroke-width',1).attr('marker-end','url(#arr)');
txt(418,16,'B',{fs:19});

// ---- Panel D
const D_fills=[['#000',null],['url(#hK)','#111'],['#661a73',null],['url(#hP)','#8a4f9c'],['#e3191b',null],['url(#hR)','#e63a34'],['url(#sR)','#e0302c'],['url(#sP)','#f3a2a2']];
bars({cats:D_cats,x0:57,x1:254,y0:434,y1:575,max:7,ticks:D_yticks,pad:0.32,labelY:591,
  series:[D_CDK1P,D_CDK1Pp,D_PLK1P,D_PLK1Pp,D_CDC25CT,D_CDC25CTp,D_CDC25CP,D_CDC25CPp].map((v,i)=>({vals:v,fill:D_fills[i][0],stroke:D_fills[i][1]}))});
txt(140,426,'WEE1 Inhibition (+)',{anchor:'middle',bold:1,fs:11});
txt(20,504,'Protein Specific Immunoblot',{anchor:'middle',rot:-90});
{const t=txt(33,504,'Approx. Signal Intensity (x10',{anchor:'middle',rot:-90}); t.append('tspan').attr('dy',-4).attr('font-size',7.5).text('4'); t.append('tspan').attr('dy',4).text(')');}
txt(155,605,'Synchronized G1/S (min post-inhibition)',{anchor:'middle'});
D_labels.forEach((l,i)=>txt(270,432+i*12.6,l));
D_fills.forEach((f,i)=>svg.append('rect').attr('x',257).attr('y',431+i*12.6).attr('width',7).attr('height',7).attr('fill',f[0]).attr('stroke',f[1]||'none').attr('stroke-width',0.5));
txt(2,430,'D',{fs:19});

// ---- Panel E
const E_fills=[['#d8151b',null],['url(#hR)','#e63a34'],['url(#sR)','#e0302c'],['url(#sP)','#f3a2a2']];
bars({cats:E_cats,x0:66,x1:203,y0:641,y1:781,max:100,ticks:E_yticks,pad:0.28,labelY:799,
  series:[E_CDC25CT,E_CDC25CTp,E_CDC25C5E,E_CDC25C5Ep].map((v,i)=>({vals:v,fill:E_fills[i][0],stroke:E_fills[i][1]}))});
txt(133,635,'PLK1 Inhibition (+)',{anchor:'middle',bold:1,fs:11});
txt(32,711,'Percent Cells at Mitotic Entry',{anchor:'middle',rot:-90});
txt(135,812,'Synchronized G1/S',{anchor:'middle'});
txt(135,826,'(hr post-release)',{anchor:'middle'});
E_labels.forEach((l,i)=>{
  const yy=647+i*17.2;
  svg.append('rect').attr('x',211).attr('y',yy-3.5).attr('width',7).attr('height',7).attr('fill',E_fills[i][0]).attr('stroke',E_fills[i][1]||'none').attr('stroke-width',0.5);
  txt(219,yy+4,l);
});
txt(2,635,'E',{fs:19});

// ---- simulation panels
let cn=0;
const fmt=d3.format('~g');
function ts(o){
  const x=d3.scaleLinear().domain(o.xd).range([o.x0,o.x1]);
  const y=d3.scaleLinear().domain(o.yd).range([o.y1,o.y0]);
  const cid='clp'+(cn++);
  defs.append('clipPath').attr('id',cid).append('rect').attr('x',o.x0).attr('y',o.y0).attr('width',o.x1-o.x0).attr('height',o.y1-o.y0);
  const g=svg.append('g');
  const lg=g.append('g').attr('clip-path',`url(#${cid})`);
  const ln=d3.line().x(d=>x(d[0])).y(d=>y(d[1])).curve(d3.curveMonotoneX);
  SER.forEach(s=>lg.append('path').attr('d',ln(o.data[s.k])).attr('fill','none').attr('stroke',s.c)
    .attr('stroke-width',s.d?1.5:1.25).attr('stroke-dasharray',s.d?'4,2.6':null));
  g.append('rect').attr('x',o.x0).attr('y',o.y0).attr('width',o.x1-o.x0).attr('height',o.y1-o.y0).attr('fill','none').attr('stroke',AX).attr('stroke-width',1);
  o.xt.forEach(v=>{const X=x(v);
    g.append('path').attr('d',`M${X},${o.y1}V${o.y1-3}M${X},${o.y0}V${o.y0+3}`).attr('stroke',AX);
    txt(X,o.y1+13,fmt(v),{anchor:'middle',fs:11,fill:'#333'});});
  o.yt.forEach(v=>{const Y=y(v);
    g.append('path').attr('d',`M${o.x0},${Y}H${o.x0+3}M${o.x1},${Y}H${o.x1-3}`).attr('stroke',AX);
    txt(o.x0-4,Y+4,fmt(v),{anchor:'end',fs:11,fill:'#333'});});
  if(o.ylab) txt(o.x0-26,(o.y0+o.y1)/2,'Relative concentrations',{anchor:'middle',rot:-90,fs:11,fill:'#333'});
  txt((o.x0+o.x1)/2,o.y1+27,'Time (hr)',{anchor:'middle',fs:11,fill:'#333'});
  if(o.title){
    const t=svg.append('text').attr('x',(o.x0+o.x1)/2).attr('y',o.y0-6).attr('text-anchor','middle').attr('font-weight','bold').attr('font-size',11).attr('fill','#111');
    let sh=0;
    o.title.forEach(p=>{const s=t.append('tspan').text(p[0]);
      if(p[1]==='i') s.attr('font-style','italic');
      if(p[1]==='s'){s.attr('font-size',8).attr('font-style','italic').attr('dy',3);sh=3;}
      else if(sh){s.attr('dy',-sh);sh=0;}});
  }
  return {x,y};
}
const mk=(P)=>({PLK1P:P[0],PLK1T:P[1],CDC25CT:P[2],CDC25CP:P[3],WEE1T:P[4],WEE1P:P[5],CCNB1T:P[6],preMPF:P[7],MPF:P[8]});
const Cd=mk([C_PLK1P,C_PLK1T,C_CDC25CT,C_CDC25CP,C_WEE1T,C_WEE1P,C_CCNB1T,C_preMPF,C_MPF]);
const FLd=mk([FL_PLK1P,FL_PLK1T,FL_CDC25CT,FL_CDC25CP,FL_WEE1T,FL_WEE1P,FL_CCNB1T,FL_preMPF,FL_MPF]);
const FRd=mk([FR_PLK1P,FR_PLK1T,FR_CDC25CT,FR_CDC25CP,FR_WEE1T,FR_WEE1P,FR_CCNB1T,FR_preMPF,FR_MPF]);
const GTRd=mk([GTR_PLK1P,GTR_PLK1T,GTR_CDC25CT,GTR_CDC25CP,GTR_WEE1T,GTR_WEE1P,GTR_CCNB1T,GTR_preMPF,GTR_MPF]);
const GBLd=mk([GBL_PLK1P,GBL_PLK1T,GBL_CDC25CT,GBL_CDC25CP,GBL_WEE1T,GBL_WEE1P,GBL_CCNB1T,GBL_preMPF,GBL_MPF]);
const GBRd=mk([GBR_PLK1P,GBR_PLK1T,GBR_CDC25CT,GBR_CDC25CP,GBR_WEE1T,GBR_WEE1P,GBR_CCNB1T,GBR_preMPF,GBR_MPF]);
const T1=(a,b,c,d)=>[["k'",'i'],[a,'s'],[b],["k'",'i'],[c,'s'],[d]];

// C
const cl=ts({x0:58,x1:193,y0:219,y1:374,xd:[0,96],yd:[0,1],xt:TS_xticks,yt:TS_yticks,data:Cd,ylab:1,
  title:[['k','i'],['s12','s'],['=0.1 and '],['k','i'],['d12.3','s'],['=2']]});
ts({x0:252,x1:388,y0:215,y1:377,xd:[12,48],yd:[0,0.5],xt:CZ_xticks,yt:CZ_yticks,data:Cd});
{const rx0=cl.x(12),rx1=cl.x(48),ry0=cl.y(0.5),ry1=cl.y(0);
 svg.append('rect').attr('x',rx0).attr('y',ry0).attr('width',rx1-rx0).attr('height',ry1-ry0).attr('fill','none').attr('stroke','#777').attr('stroke-width',1);
 svg.append('line').attr('x1',rx0).attr('y1',ry0).attr('x2',252).attr('y2',215).attr('stroke','#555').attr('stroke-dasharray','1.5,1.5');
 svg.append('line').attr('x1',rx0).attr('y1',ry1).attr('x2',252).attr('y2',377).attr('stroke','#555').attr('stroke-dasharray','1.5,1.5');}
svg.append('line').attr('x1',301).attr('y1',275).attr('x2',318).attr('y2',291).attr('stroke','#000').attr('stroke-width',1).attr('marker-end','url(#arr)');
SER.forEach((s,i)=>{const yy=220+i*10.4;
  svg.append('line').attr('x1',401).attr('x2',418).attr('y1',yy).attr('y2',yy).attr('stroke',s.c).attr('stroke-width',s.d?1.5:1.25).attr('stroke-dasharray',s.d?'5,3':null);
  txt(420,yy+3,LEG_labels[i],{fs:8.5,fill:'#222'});});
txt(2,212,'C',{fs:19});

// F
ts({x0:373,x1:509,y0:424,y1:587,xd:[0,96],yd:[0,1],xt:TS_xticks,yt:TS_yticks,data:FLd,ylab:1,title:T1('f2','=10 and ','r2','=3.5')});
ts({x0:553,x1:689,y0:424,y1:587,xd:[0,96],yd:[0,1],xt:TS_xticks,yt:TS_yticks,data:FRd,ylab:1,title:T1('f2','=10 and ','r2','=3')});
txt(330,432,'F',{fs:19});
// G
ts({x0:377,x1:514,y0:641,y1:782,xd:[0,96],yd:[0,1],xt:TS_xticks,yt:TS_yticks,data:Cd,ylab:1,title:T1('f3','=1 and ','r6','=0.5')});
ts({x0:553,x1:688,y0:641,y1:782,xd:[0,96],yd:[0,1],xt:TS_xticks,yt:TS_yticks,data:GTRd,ylab:1,title:T1('f3','=1 and ','r6','=1.5')});
ts({x0:377,x1:515,y0:841,y1:983,xd:[0,96],yd:[0,1],xt:TS_xticks,yt:TS_yticks,data:GBLd,ylab:1,title:T1('f3','=1.5 and ','r6','=1.5')});
ts({x0:553,x1:688,y0:841,y1:983,xd:[0,96],yd:[0,1],xt:TS_xticks,yt:TS_yticks,data:GBRd,ylab:1,title:T1('f3','=2 and ','r6','=1.5')});
txt(330,634,'G',{fs:19});
</script>
</body></html>
